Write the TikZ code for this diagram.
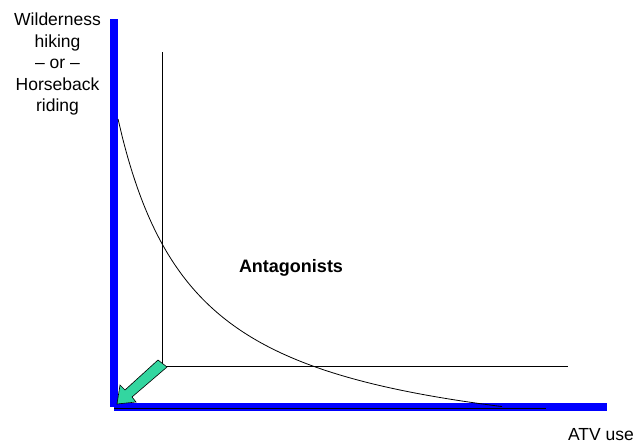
\documentclass[tikz,border=0pt]{standalone}
\usepackage{fontspec}
\setmainfont{Liberation Sans}
\usetikzlibrary{positioning}
\definecolor{arrowgreen}{RGB}{51,214,160}

\begin{document}
\begin{tikzpicture}[x=1pt,y=-1pt,
  guide/.style={black,line width=0.8pt},
  lbl/.style={font=\fontsize{17.5}{21.5}\selectfont,align=center,inner sep=0pt}]
  \useasboundingbox (0,0) rectangle (638,447);
  % thick axes
  \fill[blue] (110,19) rectangle (118,407);
  \fill[blue] (114,403) rectangle (607,411);
  \draw[guide] (114,408) -- (546,408);
  % corner lines
  \coordinate (top) at (162,52);
  \coordinate (corner) at (162,366);
  \coordinate (right) at (568,366);
  \draw[guide] (top) -- (corner) -- (right);
  % trade-off curve
  \draw[line width=0.8pt] plot[domain=118:502,samples=80,smooth] (\x,{465-270/((\x-40)/100)});
  % block arrow to the origin
  \draw[fill=arrowgreen,line width=0.6pt,line join=miter]
    (158,360) -- (125,390) -- (120,385) -- (117,404) -- (136,402) -- (132,397) -- (167,367) -- cycle;
  \node[lbl] (hike) at (57.5,64) {Wilderness\\hiking\\– or –\\Horseback\\riding};
  \node[lbl] (atv) at (601,435) {ATV use};
  \node[lbl,font=\fontsize{18}{22}\selectfont\bfseries] (antag) at (291,268) {Antagonists};
\end{tikzpicture}
\end{document}
